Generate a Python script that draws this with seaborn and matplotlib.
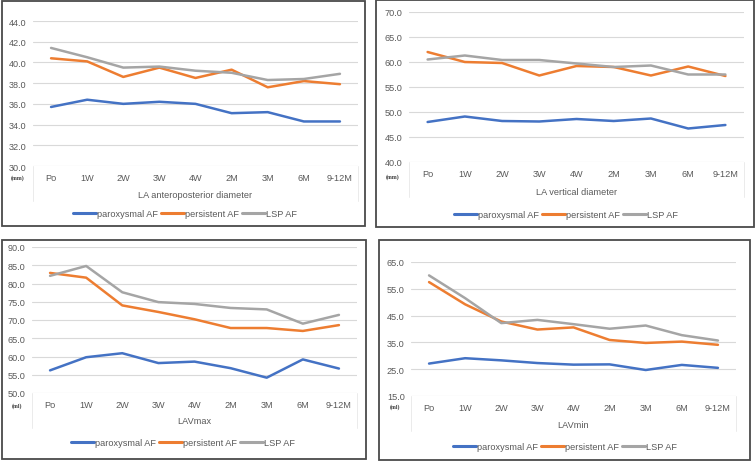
import numpy as np
import pandas as pd
import matplotlib
matplotlib.use("Agg")
import matplotlib.pyplot as plt
from matplotlib.patches import Rectangle
import seaborn as sns

# ---------------- data ----------------
categories = ["Po", "1W", "2W", "3W", "4W", "2M", "3M", "6M", "9-12M"]
groups = ["paroxysmal AF", "persistent AF", "LSP AF"]
colors = ["#4472C4", "#ED7D31", "#A5A5A5"]

ap_parox = [35.7, 36.4, 36.0, 36.2, 36.0, 35.1, 35.2, 34.3, 34.3]
ap_persist = [40.4, 40.1, 38.6, 39.5, 38.5, 39.3, 37.6, 38.2, 37.9]
ap_lsp = [41.4, 40.5, 39.5, 39.6, 39.2, 39.0, 38.3, 38.4, 38.9]

vd_parox = [48.0, 49.1, 48.2, 48.1, 48.6, 48.2, 48.7, 46.7, 47.4]
vd_persist = [62.0, 60.0, 59.8, 57.3, 59.2, 59.0, 57.3, 59.1, 57.2]
vd_lsp = [60.5, 61.3, 60.4, 60.4, 59.7, 59.0, 59.3, 57.5, 57.5]

lavmax_parox = [56.2, 59.8, 60.9, 58.2, 58.6, 56.8, 54.2, 59.2, 56.7]
lavmax_persist = [82.9, 81.6, 74.0, 72.2, 70.2, 67.8, 67.8, 67.0, 68.6]
lavmax_lsp = [82.1, 84.8, 77.6, 74.9, 74.4, 73.3, 72.9, 69.0, 71.4]

lavmin_parox = [27.1, 29.1, 28.3, 27.3, 26.7, 26.8, 24.7, 26.6, 25.5]
lavmin_persist = [57.5, 49.2, 42.8, 39.8, 40.6, 35.9, 34.8, 35.3, 34.1]
lavmin_lsp = [60.0, 51.5, 42.2, 43.4, 41.8, 40.1, 41.3, 37.7, 35.7]

titles = ["LA anteroposterior diameter", "LA vertical diameter", "LAVmax", "LAVmin"]
units = ["(mm)", "(mm)", "(ml)", "(ml)"]
yticks_list = [np.arange(30, 44.1, 2), np.arange(40, 70.1, 5),
               np.arange(50, 90.1, 5), np.arange(15, 65.1, 10)]
series = [
    (ap_parox, ap_persist, ap_lsp),
    (vd_parox, vd_persist, vd_lsp),
    (lavmax_parox, lavmax_persist, lavmax_lsp),
    (lavmin_parox, lavmin_persist, lavmin_lsp),
]

# ---------------- layout (pixels) ----------------
W, H = 756, 464
layout = [
    dict(box=(2, 2, 365, 227), plot=(33, 22, 358, 167), xl=195, leg=(185, 215), unit=(18, 178)),
    dict(box=(376, 0.5, 754, 228), plot=(409, 13, 744, 163), xl=193, leg=(566, 216), unit=(393, 177)),
    dict(box=(2, 241, 366, 460), plot=(32, 248, 357, 394), xl=422, leg=(183, 444), unit=(17, 406)),
    dict(box=(379, 241, 750, 461), plot=(411, 263, 736, 397), xl=425, leg=(565, 448), unit=(395, 407)),
]

sns.set_theme(style="white")
plt.rcParams["font.family"] = ["Liberation Sans", "DejaVu Sans"]
TXT = "#595959"
FS = 6.6

fig = plt.figure(figsize=(W / 100, H / 100), dpi=100)
fig.patch.set_facecolor("white")


def fx(px):
    return px / W


def fy(py):
    return 1 - py / H


for i in range(4):
    L = layout[i]
    x0, y0, x1, y1 = L["plot"]
    ax = fig.add_axes([fx(x0), fy(y1), (x1 - x0) / W, (y1 - y0) / H])

    rows = []
    for g, vals in zip(groups, series[i]):
        for k, v in enumerate(vals):
            rows.append({"t": k, "value": v, "group": g})
    df = pd.DataFrame(rows)

    sns.lineplot(data=df, x="t", y="value", hue="group", hue_order=groups,
                 palette=colors, linewidth=1.8, ax=ax, legend=True)

    yt = yticks_list[i]
    ax.set_ylim(yt[0], yt[-1])
    ax.set_yticks(yt)
    ax.set_yticklabels([f"{v:.1f}" for v in yt])
    ax.set_xlim(-0.5, len(categories) - 0.5)
    ax.set_xticks(range(len(categories)))
    ax.set_xticklabels(categories)
    ax.tick_params(axis="both", length=0, labelsize=FS, labelcolor=TXT)
    ax.tick_params(axis="y", pad=4.5)
    ax.tick_params(axis="x", pad=5)
    ax.set_ylabel("")
    ax.set_xlabel(titles[i], fontsize=FS, color=TXT)
    ax.xaxis.label.set_va("center")
    ax.xaxis.set_label_coords(0.5, -(L["xl"] - y1) / (y1 - y0))
    ax.yaxis.grid(True, color="#D9D9D9", linewidth=0.8)
    ax.xaxis.grid(False)
    for s in ax.spines.values():
        s.set_visible(False)
    ax.set_facecolor("white")

    # faint plot-area edges below axis
    ext = 35 / (y1 - y0)
    for xa in (0, 1):
        ax.plot([xa, xa], [0, -ext], transform=ax.transAxes, clip_on=False,
                color="#EBEBEB", linewidth=0.7)

    sns.move_legend(ax, "center", bbox_to_anchor=(fx(L["leg"][0]), fy(L["leg"][1])),
                    bbox_transform=fig.transFigure, ncol=3, title=None, frameon=False,
                    fontsize=FS, handlelength=2.5, handletextpad=0.2, columnspacing=0.25,
                    borderaxespad=0)
    leg = ax.get_legend()
    for t in leg.get_texts():
        t.set_color(TXT)
    for ln in leg.get_lines():
        ln.set_linewidth(2.2)

    # unit label
    fig.text(fx(L["unit"][0]), fy(L["unit"][1]), units[i], ha="center", va="center",
             fontsize=4.2, fontweight="bold", color="#404040",
             family=["Liberation Serif", "DejaVu Serif"])

    # panel border
    bx0, by0, bx1, by1 = L["box"]
    fig.patches.append(Rectangle((fx(bx0), fy(by1)), (bx1 - bx0) / W, (by1 - by0) / H,
                                 transform=fig.transFigure, fill=False,
                                 edgecolor="#4A4A4A", linewidth=1.3, zorder=10))

fig.savefig("out.png", dpi=100, facecolor="white")
